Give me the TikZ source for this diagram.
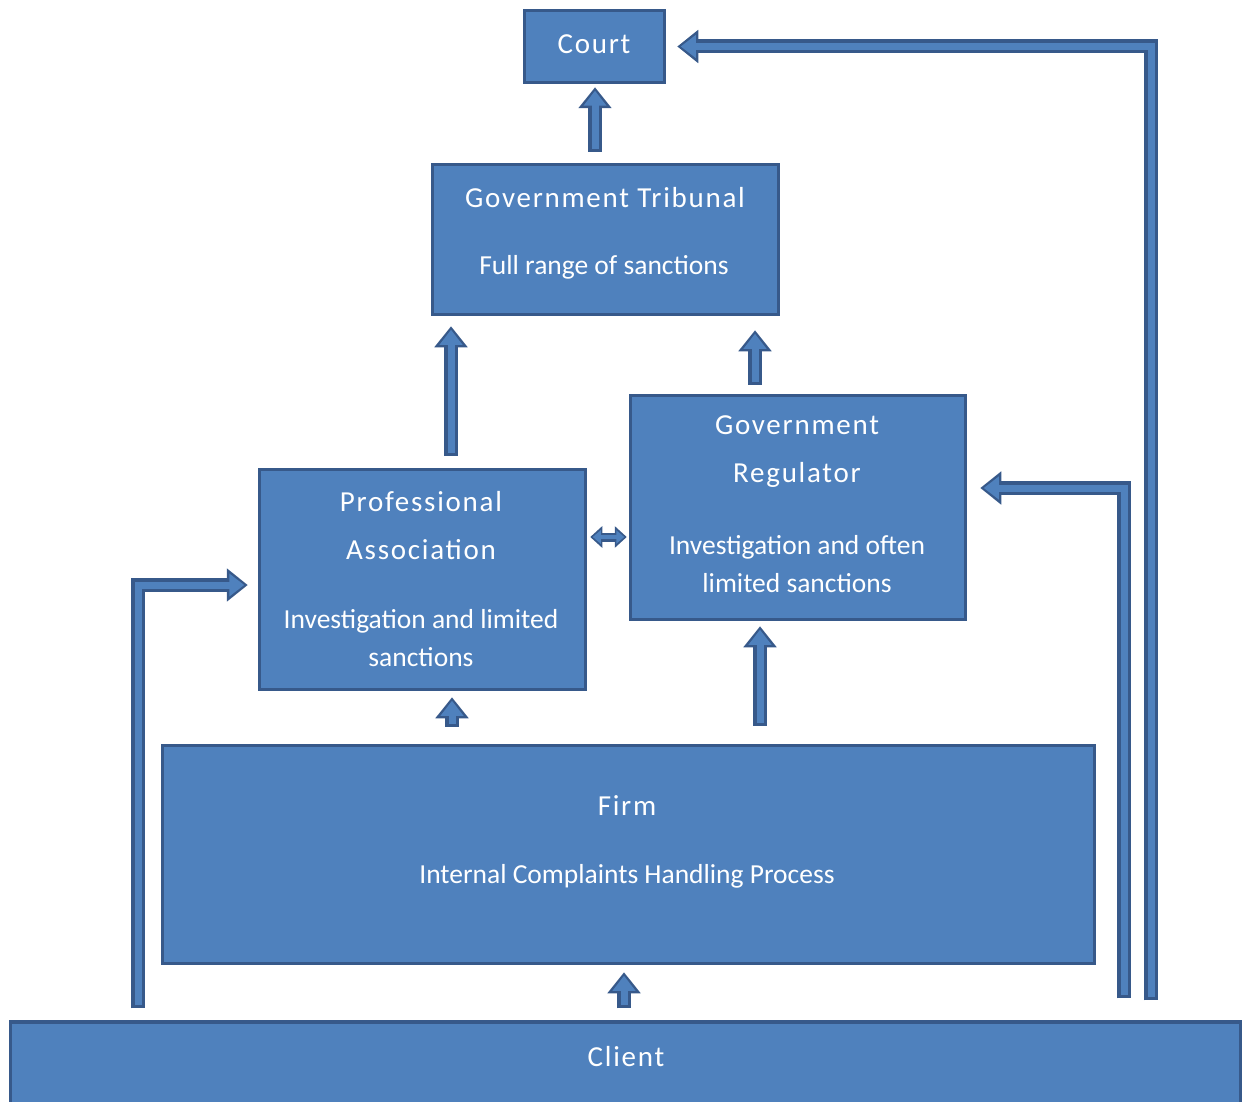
\documentclass[tikz,border=0pt]{standalone}
\usepackage{fontspec}
\setmainfont{Carlito}
\usetikzlibrary{arrows.meta}
\definecolor{boxblue}{HTML}{4F81BD}
\definecolor{boxedge}{HTML}{37598A}
\tikzset{
	box/.style={draw=boxedge, fill=boxblue, line width=3.5pt, inner sep=0pt},
	title/.style={text=white, align=center, font=\fontsize{29}{48}\selectfont\addfontfeature{LetterSpace=6}},
	body/.style={text=white, align=center, font=\fontsize{27.5}{38}\selectfont},
	arrout/.style={draw=boxedge, line width=14pt, line join=miter, -{Triangle[length=21pt,width=32pt]}},
	arrin/.style={draw=boxblue, line width=7pt, line join=miter, shorten <=3pt, shorten >=3.5pt, -{Triangle[length=15pt,width=22pt]}},
	arroutsmall/.style={draw=boxedge, line width=9pt, {Triangle[length=12pt,width=21pt]}-{Triangle[length=12pt,width=21pt]}},
	arrinsmall/.style={draw=boxblue, line width=3.5pt, shorten <=2.5pt, shorten >=2.5pt, {Triangle[length=8pt,width=13pt]}-{Triangle[length=8pt,width=13pt]}},
}
\newcommand{\blockarrow}[2][]{\draw[arrout#1] #2; \draw[arrin#1] #2;}
\begin{document}
\begin{tikzpicture}[x=1pt, y=-1pt]
	\useasboundingbox (0, 0) rectangle (1244, 1102);
	% boxes
	\draw node[box, minimum width=140pt, minimum height=72pt] at (594.5, 46.5) (court) {};
	\draw node[box, minimum width=346pt, minimum height=150pt] at (605.5, 239.5) (trib) {};
	\draw node[box, minimum width=335pt, minimum height=224pt] at (798, 507.5) (reg) {};
	\draw node[box, minimum width=326pt, minimum height=220pt] at (422.5, 579.5) (assoc) {};
	\draw node[box, minimum width=932pt, minimum height=218pt] at (628.5, 854.5) (firm) {};
	\draw node[box, minimum width=1230pt, minimum height=86pt] at (625.5, 1065) (client) {};
	
	% texts
	\draw node[title] at (594, 44) (courtt) {Court};
	\draw node[title] at (605, 198) (tribt) {Government Tribunal};
	\draw node[body] at (604, 267) (tribb) {Full range of sanctions};
	\draw node[title] at (797, 452) (regt) {Government\\Regulator};
	\draw node[body] at (797, 564) (regb) {Investigation and often\\limited sanctions};
	\draw node[title] at (421, 525.5) (assoct) {Professional\\Association};
	\draw node[body] at (421, 638) (assocb) {Investigation and limited\\sanctions};
	\draw node[title] at (627, 806) (firmt) {Firm};
	\draw node[body] at (627, 876) (firmb) {Internal Complaints Handling Process};
	\draw node[title] at (626, 1057) (clientt) {Client};
	
	% arrows
	\blockarrow{([xshift=-10.5pt, yshift=11pt]trib.north) -- ([xshift=0.5pt, yshift=-3pt]court.south)}
	\blockarrow{([xshift=28.5pt, yshift=12pt]assoc.north) -- ([xshift=-154.5pt, yshift=-10pt]trib.south)}
	\blockarrow{([xshift=-43pt, yshift=9pt]reg.north) -- ([xshift=149.5pt, yshift=-14pt]trib.south)}
	\blockarrow[small]{([xshift=3pt, yshift=42.5pt]assoc.east) -- ([xshift=-2pt, yshift=-29.5pt]reg.west)}
	\blockarrow{([xshift=-176.5pt, yshift=17pt]firm.north) -- ([xshift=29.5pt, yshift=-6pt]assoc.south)}
	\blockarrow{([xshift=131.5pt, yshift=18pt]firm.north) -- ([xshift=-38pt, yshift=-5pt]reg.south)}
	\blockarrow{([xshift=-1.5pt, yshift=12pt]client.north) -- ([xshift=-4.5pt, yshift=-7pt]firm.south)}
	\blockarrow{([xshift=-487.5pt, yshift=12pt]client.north) |- ([xshift=-10pt, yshift=-5.5pt]assoc.west)}
	\blockarrow{([xshift=498.5pt, yshift=22pt]client.north) |- ([xshift=13pt, yshift=19.5pt]reg.east)}
	\blockarrow{([xshift=525.5pt, yshift=20pt]client.north) |- ([xshift=11pt]court.east)}
\end{tikzpicture}
\end{document}
